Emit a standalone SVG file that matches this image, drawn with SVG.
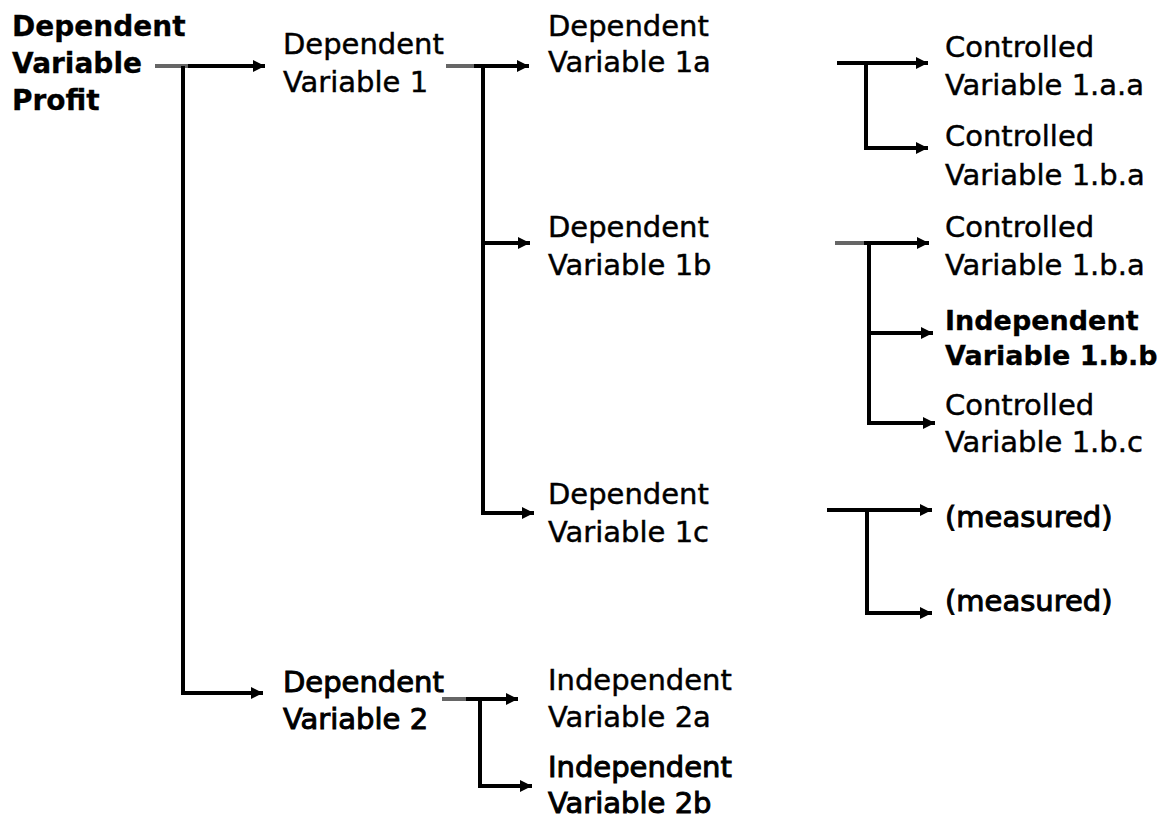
<svg xmlns="http://www.w3.org/2000/svg" width="1166" height="823" viewBox="0 0 1166 823">
<style>
text{font-family:"DejaVu Sans","Liberation Sans",sans-serif;font-size:29px;fill:#000;stroke:#000;stroke-width:0.45px}
.b{font-weight:bold;font-size:28px;stroke-width:0.3px}
.h{stroke-width:1px}
.c{fill:none;stroke:#000;stroke-width:4;stroke-linejoin:miter}
.g{fill:none;stroke:#666;stroke-width:4}
</style>
<defs>
<marker id="ah" markerUnits="userSpaceOnUse" markerWidth="14" markerHeight="14" refX="12" refY="7" orient="auto">
<path d="M0,1 L12,7 L0,13 z" fill="#000"/>
</marker>
</defs>
<rect width="1166" height="823" fill="#fff"/>
<g id="connectors">
<path class="c" d="M155,66 H265" marker-end="url(#ah)"/>
<path class="g" d="M155,66 H188"/>
<path class="c" d="M183,66 V693 H263" marker-end="url(#ah)"/>
<path class="c" d="M446,66 H529" marker-end="url(#ah)"/>
<path class="g" d="M446,66 H474"/>
<path class="c" d="M483,66 V513 H534" marker-end="url(#ah)"/>
<path class="c" d="M483,243 H530" marker-end="url(#ah)"/>
<path class="c" d="M837,63 H928" marker-end="url(#ah)"/>
<path class="c" d="M866,63 V148 H928" marker-end="url(#ah)"/>
<path class="c" d="M835,243 H929" marker-end="url(#ah)"/>
<path class="g" d="M835,243 H864"/>
<path class="c" d="M869,243 V423 H935" marker-end="url(#ah)"/>
<path class="c" d="M869,333 H933" marker-end="url(#ah)"/>
<path class="c" d="M827,510 H932" marker-end="url(#ah)"/>
<path class="c" d="M867,510 V613 H932" marker-end="url(#ah)"/>
<path class="c" d="M442,699 H518" marker-end="url(#ah)"/>
<path class="g" d="M442,699 H466"/>
<path class="c" d="M480,699 V786 H532" marker-end="url(#ah)"/>
</g>
<g id="root"><text class="b" x="12" y="36">Dependent</text><text class="b" x="12" y="73">Variable</text><text class="b" x="12" y="110">Profit</text></g>
<g id="dv1"><text x="283" y="54">Dependent</text><text x="283" y="92">Variable 1</text></g>
<g id="dv1a"><text x="548" y="36">Dependent</text><text x="548" y="72">Variable 1a</text></g>
<g id="dv1b"><text x="548" y="237">Dependent</text><text x="548" y="275">Variable 1b</text></g>
<g id="dv1c"><text x="548" y="504">Dependent</text><text x="548" y="542">Variable 1c</text></g>
<g id="dv2"><text class="h" x="283" y="692">Dependent</text><text class="h" x="283" y="729">Variable 2</text></g>
<g id="iv2a"><text x="548" y="690">Independent</text><text x="548" y="727">Variable 2a</text></g>
<g id="iv2b"><text class="h" x="548" y="777">Independent</text><text class="h" x="548" y="813">Variable 2b</text></g>
<g id="cv1aa"><text x="945" y="57">Controlled</text><text x="945" y="95">Variable 1.a.a</text></g>
<g id="cv1ba"><text x="945" y="146">Controlled</text><text x="945" y="185">Variable 1.b.a</text></g>
<g id="cv1ba2"><text x="945" y="237">Controlled</text><text x="945" y="275">Variable 1.b.a</text></g>
<g id="iv1bb"><text class="b" x="945" y="330" style="font-size:27px">Independent</text><text class="b" x="945" y="365" style="font-size:27px">Variable 1.b.b</text></g>
<g id="cv1bc"><text x="945" y="415">Controlled</text><text x="945" y="452">Variable 1.b.c</text></g>
<g id="m1"><text class="h" x="945" y="527">(measured)</text></g>
<g id="m2"><text class="h" x="945" y="611">(measured)</text></g>
</svg>
